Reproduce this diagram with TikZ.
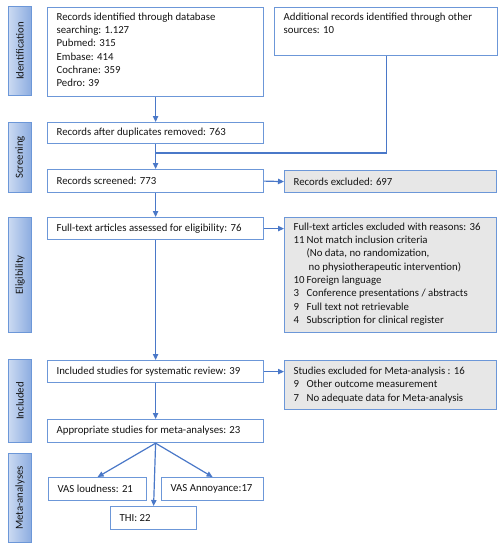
\documentclass[tikz,border=0pt]{standalone}
\usepackage{fontspec}
\setmainfont{Carlito}
\usetikzlibrary{arrows.meta,calc}
\newdimen\pxu \pxu=0.75pt
\definecolor{bord}{HTML}{6C97D8}
\definecolor{conn}{HTML}{4A78C8}
\definecolor{labA}{HTML}{CBDAF2}
\definecolor{labB}{HTML}{8CACE0}
\definecolor{exfill}{HTML}{E7E7E7}
\definecolor{txt}{HTML}{141414}
\newcommand\tbx[3]{\parbox[c][#2][t]{#1}{#3}}
\newcommand\nm[1]{\makebox[13\pxu][l]{#1}}
\tikzset{
  base/.style={anchor=north west, inner ysep=0pt, inner xsep=9*\pxu, text=txt,
    font=\fontsize{8.1}{10}\selectfont, align=left},
  box/.style={base, draw=bord, line width=0.9pt},
  gbox/.style={box, fill=exfill},
  sz/.style 2 args={minimum width=#1*\pxu, minimum height=#2*\pxu},
  lab/.style={anchor=north west, draw=bord, line width=0.7pt, left color=labA, right color=labB,
    inner sep=0pt, text=txt, font=\fontsize{8.1}{9}\selectfont},
  arr/.style={draw=conn, line width=0.9pt, -{Triangle[length=4.5pt,width=4pt]}},
  ln/.style={draw=conn, line width=0.9pt},
}
\begin{document}
\begin{tikzpicture}[x=0.75pt,y=-0.75pt]
\useasboundingbox[fill=white] (0,0) rectangle (501,550);
% phase labels
\node[lab, sz={23}{89}] (idl) at (8,6) {\rotatebox{90}{Identification}};
\node[lab, sz={23}{70}] (scl) at (8,122) {\rotatebox{90}{Screening}};
\node[lab, sz={23}{115}] (ell) at (8,217) {\rotatebox{90}{Eligibility}};
\node[lab, sz={23}{83}] (inl) at (8,359) {\rotatebox{90}{Included}};
\node[lab, sz={23}{89}] (mal) at (8,453) {\rotatebox{90}{Meta-analyses}};
% main column
\node[box, sz={216}{89}, inner ysep=5*\pxu] (ident) at (47,7) {\tbx{198\pxu}{79\pxu}{Records identified through database\\searching: 1.127\\Pubmed: 315\\Embase: 414\\Cochrane: 359\\Pedro: 39}};
\node[box, sz={223}{48}, inner ysep=5*\pxu] (addl) at (274,7) {\tbx{205\pxu}{38\pxu}{Additional records identified through other\\sources: 10}};
\node[box, sz={216}{21}] (dup) at (47,122) {\makebox[198\pxu][l]{Records after duplicates removed: 763}};
\node[box, sz={216}{23}] (scr) at (47,169) {\makebox[198\pxu][l]{Records screened: 773}};
\node[gbox, sz={212}{22}] (ex1) at (284,170) {\makebox[194\pxu][l]{Records excluded: 697}};
\node[box, sz={216}{22}] (full) at (47,217) {\makebox[198\pxu][l]{Full-text articles assessed for eligibility: 76}};
\node[gbox, sz={212}{115}, inner ysep=5*\pxu] (ex2) at (284,217) {\tbx{194\pxu}{105\pxu}{Full-text articles excluded with reasons: 36\\
\nm{11}Not match inclusion criteria\\
\hspace*{13\pxu}(No data, no randomization,\\
\hspace*{15\pxu}no physiotherapeutic intervention)\\
\nm{10}Foreign language\\
\nm{3}Conference presentations / abstracts\\
\nm{9}Full text not retrievable\\
\nm{4}Subscription for clinical register}};
\node[box, sz={216}{22}] (incl) at (47,360) {\makebox[198\pxu][l]{Included studies for systematic review: 39}};
\node[gbox, sz={212}{49}] (ex3) at (284,360) {\makebox[194\pxu][l]{\parbox{194\pxu}{Studies excluded for Meta-analysis : 16\\
\nm{9}Other outcome measurement\\
\nm{7}No adequate data for Meta-analysis}}};
\node[box, sz={216}{23}] (appr) at (47,419) {\makebox[198\pxu][l]{Appropriate studies for meta-analyses: 23}};
\node[box, sz={98}{23}] (vasl) at (48,477) {\makebox[80\pxu][l]{VAS loudness: 21}};
\node[box, sz={102}{23}] (vasa) at (161,477) {\makebox[84\pxu][l]{VAS Annoyance:17}};
\node[box, sz={86}{23}] (thi) at (110,506) {\makebox[68\pxu][l]{THI: 22}};
% connectors
\coordinate (join) at (155,153);
\draw[arr] (ident.south) -- (dup.north);
\draw[ln] (addl.south) |- (join);
\draw[arr] (dup.south) -- (scr.north);
\draw[arr] (scr.east) -- (ex1.west);
\draw[arr] (scr.south) -- (full.north);
\draw[arr] (full.east) -- (full.east -| ex2.west);
\draw[arr] (full.south) -- (incl.north);
\draw[arr] (incl.east) -- (incl.east -| ex3.west);
\draw[arr] (incl.south) -- (appr.north);
\draw[arr] (appr.south) -- (vasl.north);
\draw[arr] (appr.south) -- (vasa.north);
\draw[arr] (appr.south) -- (thi.north);
\end{tikzpicture}
\end{document}
